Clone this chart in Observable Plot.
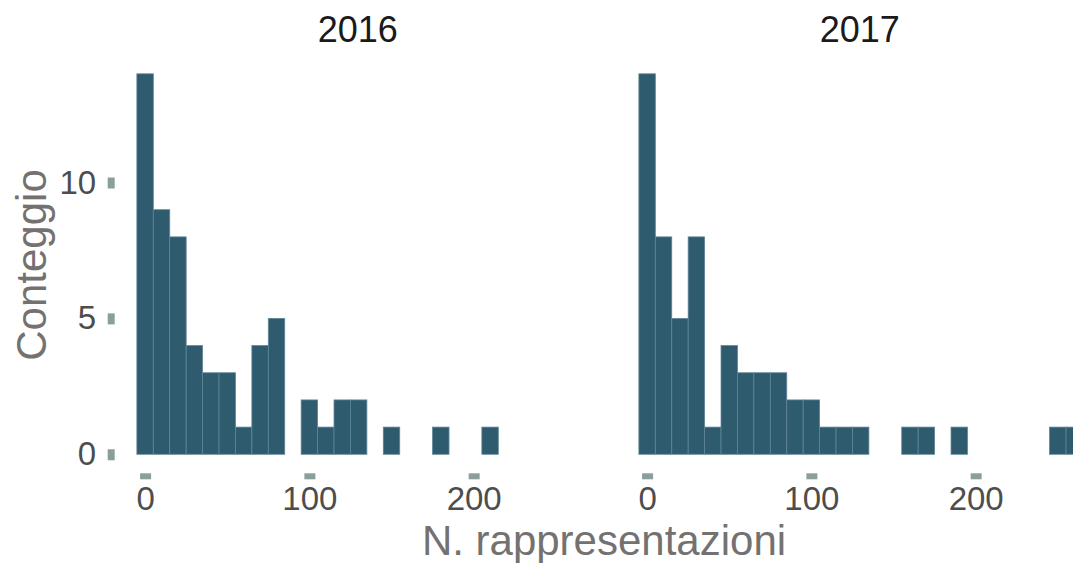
<!DOCTYPE html>
<html>
<head>
<meta charset="utf-8">
<script src="https://cdn.jsdelivr.net/npm/d3@7"></script>
<script src="https://cdn.jsdelivr.net/npm/@observablehq/plot@0.6"></script>
<style>
  html, body { margin: 0; padding: 0; background: #ffffff; overflow: hidden; }
  #chart { width: 1073px; height: 563px; overflow: hidden; position: relative; }
  #chart svg { display: block; max-width: none !important; width: 1102px !important; height: 563px !important; }
</style>
</head>
<body>
<div id="chart"></div>
<script>
// ---- data ----
const years = [2016, 2017];
const BIN = 10;
const bins = [0, 10, 20, 30, 40, 50, 60, 70, 80, 90, 100, 110, 120, 130, 140, 150, 160, 170, 180, 190, 200, 210, 220, 230, 240, 250, 260];
const counts2016 = [14, 9, 8, 4, 3, 3, 1, 4, 5, 0, 2, 1, 2, 2, 0, 1, 0, 0, 1, 0, 0, 1, 0, 0, 0, 0, 0];
const counts2017 = [14, 8, 5, 8, 1, 4, 3, 3, 3, 2, 2, 1, 1, 1, 0, 0, 1, 1, 0, 1, 0, 0, 0, 0, 0, 1, 1];
const xTicks = [0, 100, 200];
const yTicks = [0, 5, 10];
const xLabel = "N. rappresentazioni";
const yLabel = "Conteggio";

// ---- table for the library ----
const table = [];
bins.forEach((b, i) => {
  if (counts2016[i] > 0) table.push({year: 2016, bin: b, count: counts2016[i]});
  if (counts2017[i] > 0) table.push({year: 2017, bin: b, count: counts2017[i]});
});

const barFill = "#2f5b6f";
const barStroke = "#5f8596";
const tickColor = "#8a9e9b";
const tickText = "#4d4d4d";
const titleColor = "#747171";
const font = "'Liberation Sans', Arial, Helvetica, sans-serif";

const W = 1102, H = 563;
const mL = 114.7, mR = 0, mT = 54.8, mB = 89.7;

const svg = Plot.plot({
  width: W,
  height: H,
  marginLeft: mL,
  marginRight: mR,
  marginTop: mT,
  marginBottom: mB,
  style: {fontFamily: font, background: "#ffffff", overflow: "visible", maxWidth: "none"},
  fx: {domain: years, paddingInner: 0.0333, paddingOuter: 0, round: false, axis: null, label: null},
  x: {domain: [-18.5, 276.9], label: null},
  y: {domain: [-0.7, 14.7], label: null},
  marks: [
    Plot.rect(table, {
      fx: "year",
      x1: d => d.bin - BIN / 2,
      x2: d => d.bin + BIN / 2,
      y1: 0,
      y2: "count",
      fill: barFill,
      stroke: barStroke,
      strokeWidth: 0.8
    }),
    Plot.axisY({
      ticks: yTicks, tickSize: 7, tickPadding: 12, strokeWidth: 11,
      stroke: tickColor, fill: tickText, fontSize: 33, label: null
    }),
    Plot.axisX({
      ticks: xTicks, tickSize: 6, tickPadding: 7, strokeWidth: 11,
      stroke: tickColor, fill: tickText, fontSize: 33, label: null
    }),
    Plot.text(years, {
      fx: d => d,
      text: d => String(d),
      frameAnchor: "top",
      lineAnchor: "bottom",
      dy: -13.8,
      fontSize: 36,
      fill: "#1a1a1a"
    })
  ]
});

const s = d3.select(svg);
// x-axis title, centred across both panels
s.append("text")
  .attr("x", 604)
  .attr("y", 555)
  .attr("text-anchor", "middle")
  .attr("font-family", font)
  .attr("font-size", 42)
  .attr("fill", titleColor)
  .text(xLabel);
// y-axis title
s.append("text")
  .attr("transform", "translate(46,265) rotate(-90)")
  .attr("text-anchor", "middle")
  .attr("font-family", font)
  .attr("font-size", 42)
  .attr("fill", titleColor)
  .text(yLabel);

document.getElementById("chart").appendChild(svg);
</script>
</body>
</html>
